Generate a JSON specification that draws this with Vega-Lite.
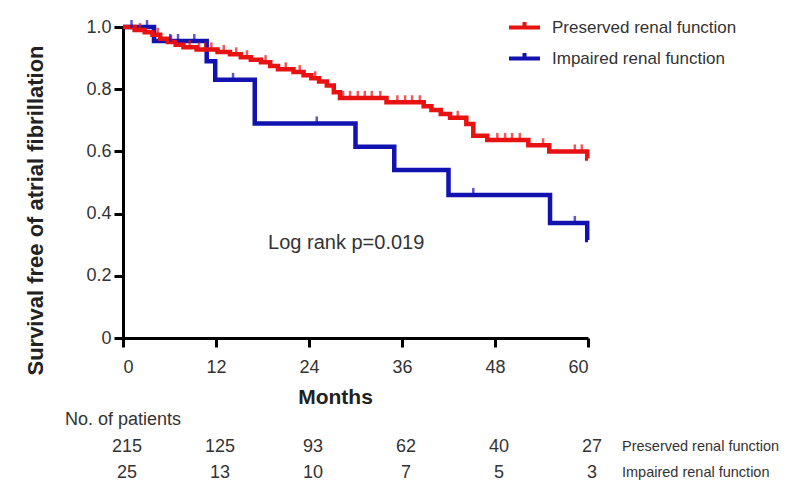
{
  "$schema": "https://vega.github.io/schema/vega-lite/v6.json",
  "autosize": "none",
  "padding": {"left": 123, "top": 27, "right": 209, "bottom": 160},
  "width": 465,
  "height": 311,
  "background": "white",
  "config": {
    "view": {"stroke": null},
    "font": "Liberation Sans",
    "axis": {
      "grid": false,
      "domainColor": "black",
      "domainWidth": 3,
      "tickColor": "black",
      "tickWidth": 3,
      "tickSize": 9,
      "labelFont": "Liberation Sans",
      "labelFontSize": 18,
      "labelColor": "#333333",
      "titleFont": "Liberation Sans",
      "titleFontSize": 21,
      "titleFontWeight": "bold",
      "titleColor": "#222222"
    }
  },
  "datasets": {
    "km": [
      {"series": "Impaired renal function", "month": 0, "surv": 1.0},
      {"series": "Impaired renal function", "month": 4, "surv": 0.955},
      {"series": "Impaired renal function", "month": 10.8, "surv": 0.89},
      {"series": "Impaired renal function", "month": 11.9, "surv": 0.83},
      {"series": "Impaired renal function", "month": 17, "surv": 0.69},
      {"series": "Impaired renal function", "month": 30, "surv": 0.615},
      {"series": "Impaired renal function", "month": 35, "surv": 0.54},
      {"series": "Impaired renal function", "month": 42, "surv": 0.46},
      {"series": "Impaired renal function", "month": 55.1, "surv": 0.37},
      {"series": "Impaired renal function", "month": 59.9, "surv": 0.315},
      {"series": "Impaired renal function", "month": 60, "surv": 0.315},
      {"series": "Preserved renal function", "month": 0, "surv": 1.0},
      {"series": "Preserved renal function", "month": 1.5, "surv": 0.99},
      {"series": "Preserved renal function", "month": 2.8, "surv": 0.983},
      {"series": "Preserved renal function", "month": 3.8, "surv": 0.975},
      {"series": "Preserved renal function", "month": 4.8, "surv": 0.962},
      {"series": "Preserved renal function", "month": 5.8, "surv": 0.952},
      {"series": "Preserved renal function", "month": 6.8, "surv": 0.943},
      {"series": "Preserved renal function", "month": 7.8, "surv": 0.935},
      {"series": "Preserved renal function", "month": 9.5, "surv": 0.928},
      {"series": "Preserved renal function", "month": 12.2, "surv": 0.92},
      {"series": "Preserved renal function", "month": 13.8, "surv": 0.912},
      {"series": "Preserved renal function", "month": 15.2, "surv": 0.903},
      {"series": "Preserved renal function", "month": 16.5, "surv": 0.895},
      {"series": "Preserved renal function", "month": 17.8, "surv": 0.887},
      {"series": "Preserved renal function", "month": 19, "surv": 0.875},
      {"series": "Preserved renal function", "month": 20, "surv": 0.864},
      {"series": "Preserved renal function", "month": 22, "surv": 0.855},
      {"series": "Preserved renal function", "month": 23.3, "surv": 0.845},
      {"series": "Preserved renal function", "month": 24.3, "surv": 0.835},
      {"series": "Preserved renal function", "month": 25.3, "surv": 0.825},
      {"series": "Preserved renal function", "month": 26.3, "surv": 0.812},
      {"series": "Preserved renal function", "month": 27.2, "surv": 0.79},
      {"series": "Preserved renal function", "month": 28, "surv": 0.772},
      {"series": "Preserved renal function", "month": 34, "surv": 0.758},
      {"series": "Preserved renal function", "month": 38.8, "surv": 0.745},
      {"series": "Preserved renal function", "month": 39.8, "surv": 0.733},
      {"series": "Preserved renal function", "month": 41, "surv": 0.72},
      {"series": "Preserved renal function", "month": 42.2, "surv": 0.708},
      {"series": "Preserved renal function", "month": 44.3, "surv": 0.688},
      {"series": "Preserved renal function", "month": 45.2, "surv": 0.65},
      {"series": "Preserved renal function", "month": 47, "surv": 0.637},
      {"series": "Preserved renal function", "month": 52.3, "surv": 0.62},
      {"series": "Preserved renal function", "month": 55, "surv": 0.6},
      {"series": "Preserved renal function", "month": 59.9, "surv": 0.577},
      {"series": "Preserved renal function", "month": 60, "surv": 0.577}
    ],
    "censRed": [
      {"month": 2.2, "surv": 0.99}, {"month": 4.5, "surv": 0.975}, {"month": 6.2, "surv": 0.952},
      {"month": 8.6, "surv": 0.935}, {"month": 9.8, "surv": 0.928}, {"month": 10.6, "surv": 0.928},
      {"month": 11.4, "surv": 0.928}, {"month": 13.0, "surv": 0.92}, {"month": 14.6, "surv": 0.912},
      {"month": 16.0, "surv": 0.903}, {"month": 18.4, "surv": 0.887}, {"month": 21.0, "surv": 0.864},
      {"month": 22.8, "surv": 0.855}, {"month": 24.8, "surv": 0.835}, {"month": 28.4, "surv": 0.772},
      {"month": 29.3, "surv": 0.772}, {"month": 30.3, "surv": 0.772}, {"month": 31.2, "surv": 0.772},
      {"month": 32.1, "surv": 0.772}, {"month": 33.2, "surv": 0.772}, {"month": 35.4, "surv": 0.758},
      {"month": 36.4, "surv": 0.758}, {"month": 37.3, "surv": 0.758}, {"month": 38.3, "surv": 0.758},
      {"month": 43.2, "surv": 0.708}, {"month": 48.3, "surv": 0.637}, {"month": 49.3, "surv": 0.637},
      {"month": 50.2, "surv": 0.637}, {"month": 51.2, "surv": 0.637}, {"month": 54.2, "surv": 0.62},
      {"month": 58.3, "surv": 0.6}, {"month": 59.2, "surv": 0.6}
    ],
    "censBlue": [
      {"month": 1.1, "surv": 1.0}, {"month": 3.1, "surv": 1.0}, {"month": 6.1, "surv": 0.955},
      {"month": 7.1, "surv": 0.955}, {"month": 9.2, "surv": 0.955}, {"month": 14.2, "surv": 0.83},
      {"month": 25, "surv": 0.69}, {"month": 45.2, "surv": 0.46}, {"month": 58.3, "surv": 0.37}
    ],
    "atRisk": [
      {"month": 0, "row": "Preserved", "n": "215"},
      {"month": 12, "row": "Preserved", "n": "125"},
      {"month": 24, "row": "Preserved", "n": "93"},
      {"month": 36, "row": "Preserved", "n": "62"},
      {"month": 48, "row": "Preserved", "n": "40"},
      {"month": 60, "row": "Preserved", "n": "27"},
      {"month": 0, "row": "Impaired", "n": "25"},
      {"month": 12, "row": "Impaired", "n": "13"},
      {"month": 24, "row": "Impaired", "n": "10"},
      {"month": 36, "row": "Impaired", "n": "7"},
      {"month": 48, "row": "Impaired", "n": "5"},
      {"month": 60, "row": "Impaired", "n": "3"}
    ],
    "rowNames": [
      {"month": 60, "row": "Preserved", "name": "Preserved renal function"},
      {"month": 60, "row": "Impaired", "name": "Impaired renal function"}
    ],
    "header": [
      {"month": 0, "row": "head", "name": "No. of patients"}
    ]
  },
  "layer": [
    {
      "layer": [
        {
          "data": {"name": "km"},
          "mark": {"type": "line", "interpolate": "step-after", "strokeWidth": 4.5},
          "encoding": {
            "x": {
              "field": "month", "type": "quantitative",
              "scale": {"domain": [0, 60], "nice": false},
              "axis": {
                "values": [0, 12, 24, 36, 48, 60],
                "title": "Months",
                "labelPadding": 11,
                "titleX": 212, "titleY": 59, "titleBaseline": "middle", "titleAnchor": null
              }
            },
            "y": {
              "field": "surv", "type": "quantitative",
              "scale": {"domain": [0, 1], "nice": false},
              "axis": {
                "values": [0, 0.2, 0.4, 0.6, 0.8, 1.0],
                "labelExpr": "datum.value == 0 ? '0' : format(datum.value, '.1f')",
                "labelPadding": 3,
                "title": "Survival free of atrial fibrillation",
                "titleFontSize": 22,
                "titleX": -88, "titleY": 183, "titleAngle": 270, "titleBaseline": "middle", "titleAlign": "center"
              }
            },
            "color": {
              "field": "series", "type": "nominal",
              "scale": {"domain": ["Preserved renal function", "Impaired renal function"], "range": ["#e81212", "#1212b0"]},
              "legend": {
                "orient": "none", "legendX": 384, "legendY": -17, "title": null,
                "symbolType": "M-1,0H1M0,0V-0.35", "symbolSize": 961, "symbolStrokeWidth": 4,
                "labelFont": "Liberation Sans", "labelFontSize": 17, "labelColor": "#333333",
                "labelLimit": 0,
                "labelOffset": 10, "rowPadding": 5, "padding": 0
              }
            }
          }
        },
        {
          "data": {"name": "censRed"},
          "mark": {"type": "tick", "orient": "vertical", "size": 8, "thickness": 2.5, "yOffset": -3, "color": "#e81212"},
          "encoding": {
            "x": {"field": "month", "type": "quantitative", "scale": {"domain": [0, 60], "nice": false}},
            "y": {"field": "surv", "type": "quantitative", "scale": {"domain": [0, 1], "nice": false}}
          }
        },
        {
          "data": {"name": "censBlue"},
          "mark": {"type": "tick", "orient": "vertical", "size": 8, "thickness": 2.5, "yOffset": -3, "color": "#1212b0"},
          "encoding": {
            "x": {"field": "month", "type": "quantitative", "scale": {"domain": [0, 60], "nice": false}},
            "y": {"field": "surv", "type": "quantitative", "scale": {"domain": [0, 1], "nice": false}}
          }
        },
        {
          "data": {"values": [{"label": "Log rank p=0.019"}]},
          "mark": {"type": "text", "fontSize": 20, "color": "#333333", "align": "center", "baseline": "middle"},
          "encoding": {
            "x": {"datum": 28.8, "type": "quantitative", "scale": {"domain": [0, 60], "nice": false}},
            "y": {"datum": 0.305, "type": "quantitative", "scale": {"domain": [0, 1], "nice": false}},
            "text": {"field": "label"}
          }
        }
      ]
    },
    {
      "layer": [
        {
          "data": {"name": "atRisk"},
          "mark": {"type": "text", "fontSize": 18, "color": "#333333", "align": "center", "baseline": "middle", "dx": 4},
          "encoding": {
            "x": {"field": "month", "type": "quantitative", "scale": {"domain": [0, 60], "nice": false}},
            "y": {"field": "row", "type": "nominal", "scale": {"type": "point", "domain": ["head", "Preserved", "Impaired"], "range": [393, 446], "padding": 0}, "axis": null},
            "text": {"field": "n"}
          }
        },
        {
          "data": {"name": "rowNames"},
          "mark": {"type": "text", "fontSize": 14.5, "color": "#333333", "align": "left", "baseline": "middle", "dx": 34},
          "encoding": {
            "x": {"field": "month", "type": "quantitative", "scale": {"domain": [0, 60], "nice": false}},
            "y": {"field": "row", "type": "nominal", "scale": {"type": "point", "domain": ["head", "Preserved", "Impaired"], "range": [393, 446], "padding": 0}, "axis": null},
            "text": {"field": "name"}
          }
        },
        {
          "data": {"name": "header"},
          "mark": {"type": "text", "fontSize": 18, "color": "#333333", "align": "left", "baseline": "middle", "dx": -58},
          "encoding": {
            "x": {"field": "month", "type": "quantitative", "scale": {"domain": [0, 60], "nice": false}},
            "y": {"field": "row", "type": "nominal", "scale": {"type": "point", "domain": ["head", "Preserved", "Impaired"], "range": [393, 446], "padding": 0}, "axis": null},
            "text": {"field": "name"}
          }
        }
      ]
    }
  ],
  "resolve": {"scale": {"y": "independent"}}
}
